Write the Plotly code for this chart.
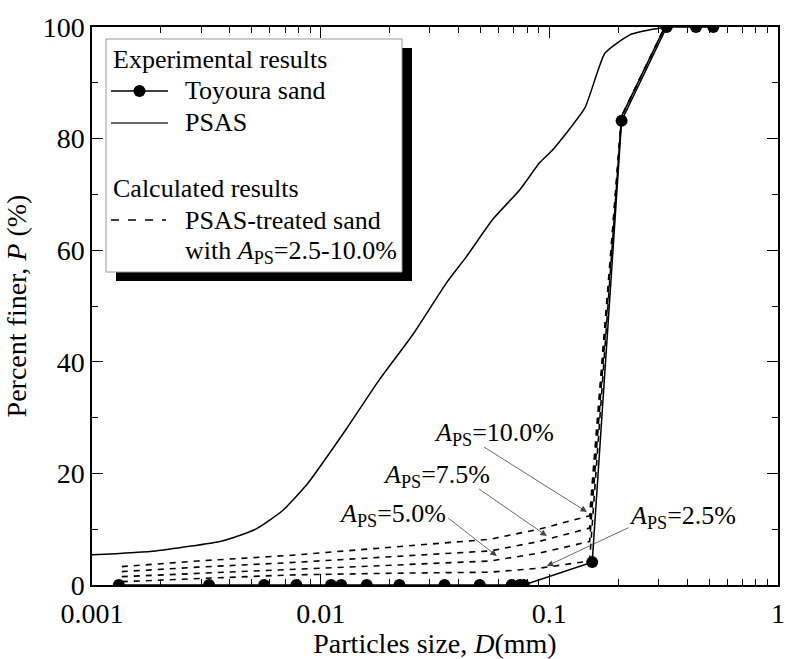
import numpy as np
import plotly.graph_objects as go

# ---------------- data ----------------
D_toyoura = [0.00131, 0.00325, 0.00566, 0.00783, 0.0111, 0.0123, 0.0159, 0.0221,
             0.0348, 0.0496, 0.0684, 0.0742, 0.0773, 0.154, 0.207, 0.326, 0.438, 0.521]
P_toyoura = [0, 0, 0, 0, 0, 0, 0, 0, 0, 0, 0, 0, 0, 4.1, 83.2, 100, 100, 100]

D_psas = [0.001, 0.0019, 0.0037, 0.0052, 0.0068, 0.0087, 0.01297, 0.01807, 0.02522,
          0.03556, 0.04349, 0.05649, 0.07417, 0.0908, 0.1035, 0.143, 0.175, 0.225,
          0.284, 0.327]
P_psas = [5.4, 6.1, 7.9, 10.0, 13.3, 18.0, 28.0, 36.8, 44.8, 54.2, 58.9, 65.5, 70.8,
          75.7, 78.0, 85.5, 95.3, 98.6, 99.6, 100]

D_calc = [0.00135, 0.0029, 0.0073, 0.0202, 0.055, 0.09, 0.15, 0.207, 0.32]
P_calc_100 = [3.3, 4.3, 5.3, 6.8, 8.2, 10.0, 12.4, 84, 100]
P_calc_75 = [2.4, 3.2, 4.0, 5.1, 6.1, 7.8, 10.2, 84, 100]
P_calc_50 = [1.5, 2.1, 2.7, 3.5, 4.3, 5.7, 7.8, 84, 100]
P_calc_25 = [0.6, 1.2, 1.8, 2.1, 2.3, 3.0, 4.3, 84, 100]

x_tickvals = [0.001, 0.01, 0.1, 1]
x_ticktext = ["0.001", "0.01", "0.1", "1"]
y_tickvals = [0, 20, 40, 60, 80, 100]

# annotation labels: (text, label x (mm), label y, arrow head (mm, P), arrow tail (mm, P))
labels = [
    ("<i>A</i><sub>PS</sub>=10.0%", 0.0308, 27.0, (0.146, 13.1), (0.0510, 24.9)),
    ("<i>A</i><sub>PS</sub>=7.5%", 0.01845, 19.5, (0.0975, 8.8), (0.0485, 17.4)),
    ("<i>A</i><sub>PS</sub>=5.0%", 0.01183, 12.5, (0.0589, 5.2), (0.0356, 12.2)),
    ("<i>A</i><sub>PS</sub>=2.5%", 0.2183, 12.2, (0.0975, 3.4), (0.225, 10.4)),
]

FONT = "Liberation Serif, Times New Roman, DejaVu Serif, serif"
BLACK = "#000000"

# plot-area geometry in pixels (for legend placement)
L, R, T, B = 92, 778, 27, 585
W, H = R - L, B - T


def px(x):
    return (x - L) / W


def py(y):
    return (B - y) / H


fig = go.Figure()

calc_sets = [P_calc_100, P_calc_75, P_calc_50, P_calc_25]
for p in calc_sets:
    fig.add_trace(go.Scatter(x=D_calc, y=p, mode="lines",
                             line=dict(color=BLACK, width=1.6, dash="6px,6px"),
                             showlegend=False, hoverinfo="skip"))

fig.add_trace(go.Scatter(x=D_psas, y=P_psas, mode="lines",
                         line=dict(color=BLACK, width=1.5, shape="spline", smoothing=0.5),
                         showlegend=False))
fig.add_trace(go.Scatter(x=D_toyoura, y=P_toyoura, mode="lines+markers",
                         line=dict(color=BLACK, width=1.5),
                         marker=dict(color=BLACK, size=12),
                         showlegend=False))

annotations = []
for text, lx, ly, head, tail in labels:
    annotations.append(dict(x=np.log10(lx), y=ly, xref="x", yref="y", text=text,
                            showarrow=False, xanchor="left", yanchor="middle",
                            font=dict(family=FONT, size=26, color=BLACK)))
    annotations.append(dict(x=np.log10(head[0]), y=head[1], xref="x", yref="y",
                            ax=np.log10(tail[0]), ay=tail[1], axref="x", ayref="y",
                            text="", showarrow=True, arrowhead=2, arrowsize=1.6,
                            arrowwidth=0.8, arrowcolor="#444444"))

# legend texts
leg_font = dict(family=FONT, size=26, color=BLACK)
legend_rows = [
    ("Experimental results", 111, 60),
    ("Toyoura sand", 183, 91),
    ("PSAS", 183, 123),
    ("Calculated results", 111, 188),
    ("PSAS-treated sand", 183, 220),
    ("with <i>A</i><sub>PS</sub>=2.5-10.0%", 183, 252),
]
for text, x, y in legend_rows:
    annotations.append(dict(x=px(x), y=py(y), xref="paper", yref="paper", text=text,
                            showarrow=False, xanchor="left", yanchor="middle",
                            font=leg_font))

shapes = [
    # legend shadow and box
    dict(type="rect", xref="paper", yref="paper", x0=px(116), x1=px(412),
         y0=py(281), y1=py(48), fillcolor=BLACK, line=dict(width=0), layer="above"),
    dict(type="rect", xref="paper", yref="paper", x0=px(106), x1=px(402),
         y0=py(272), y1=py(39), fillcolor="white", line=dict(color="#999999", width=1),
         layer="above"),
    # legend samples
    dict(type="line", xref="paper", yref="paper", x0=px(111), x1=px(168),
         y0=py(91), y1=py(91), line=dict(color=BLACK, width=1.5), layer="above"),
    dict(type="circle", xref="paper", yref="paper", xsizemode="pixel", ysizemode="pixel",
         xanchor=px(139.5), yanchor=py(91), x0=-6, x1=6, y0=-6, y1=6,
         fillcolor=BLACK, line=dict(width=0), layer="above"),
    dict(type="line", xref="paper", yref="paper", x0=px(111), x1=px(168),
         y0=py(123), y1=py(123), line=dict(color="#333333", width=1.5), layer="above"),
    dict(type="line", xref="paper", yref="paper", x0=px(111), x1=px(166),
         y0=py(220), y1=py(220), line=dict(color=BLACK, width=1.6, dash="8px,9px"),
         layer="above"),
]

x_minor = [k * 10.0 ** e for e in (-3, -2, -1) for k in range(2, 10)]

fig.update_layout(
    width=785, height=659,
    margin=dict(l=L, r=785 - R, t=T, b=659 - B),
    paper_bgcolor="white", plot_bgcolor="white",
    font=dict(family=FONT, size=28, color=BLACK),
    annotations=annotations, shapes=shapes,
    showlegend=False,
)
fig.update_xaxes(
    type="log", range=[-3, 0], tickmode="array", tickvals=x_tickvals, ticktext=x_ticktext,
    ticks="inside", ticklen=11, tickwidth=1.2, tickcolor=BLACK,
    showline=True, linecolor=BLACK, linewidth=1.5, mirror="allticks",
    showgrid=False, zeroline=False, automargin=False, ticklabelstandoff=3,
    tickfont=dict(family=FONT, size=28, color=BLACK),
    minor=dict(tickmode="array", tickvals=x_minor, ticks="inside", ticklen=6,
               tickwidth=1, tickcolor=BLACK, showgrid=False),
    title=dict(text="Particles size, <i>D</i>(mm)", standoff=6,
               font=dict(family=FONT, size=28, color=BLACK)),
)
fig.update_yaxes(
    range=[0, 100], tickmode="array", tickvals=y_tickvals,
    ticks="inside", ticklen=11, tickwidth=1.2, tickcolor=BLACK,
    showline=True, linecolor=BLACK, linewidth=1.5, mirror="allticks",
    showgrid=False, zeroline=False, automargin=False,
    tickfont=dict(family=FONT, size=28, color=BLACK),
    minor=dict(dtick=10, ticks="inside", ticklen=6, tickwidth=1, tickcolor=BLACK,
               showgrid=False),
    title=dict(text="Percent finer, <i>P</i> (%)", standoff=8,
               font=dict(family=FONT, size=28, color=BLACK)),
)

fig.write_html("out.html")
